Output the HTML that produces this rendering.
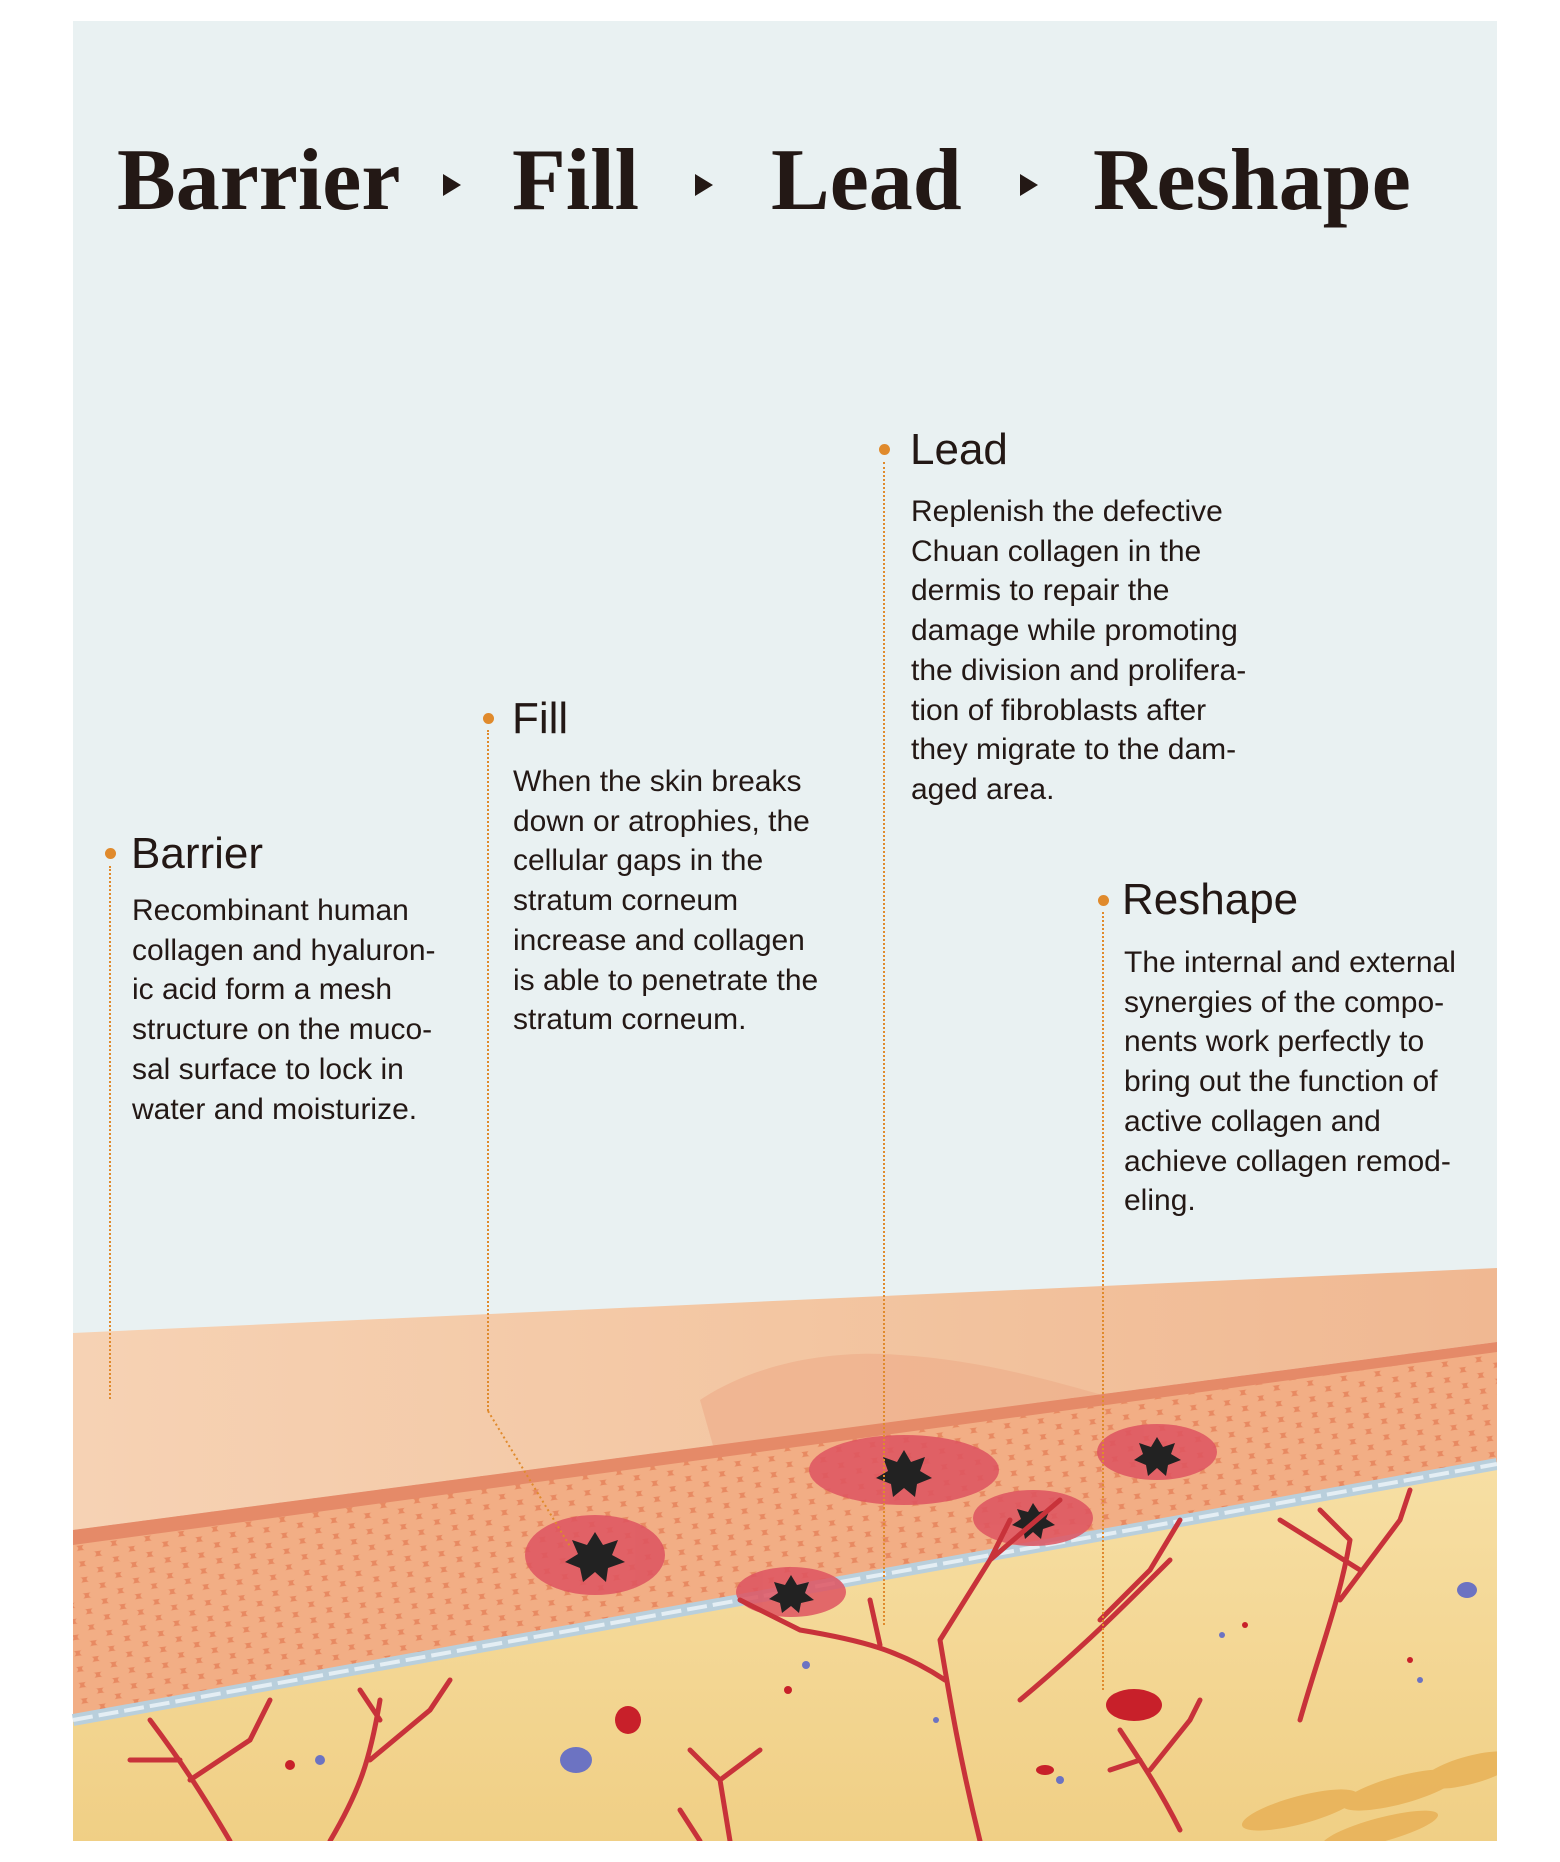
<!DOCTYPE html>
<html><head><meta charset="utf-8"><style>
html,body{margin:0;padding:0;background:#fff;}
body{width:1560px;height:1862px;position:relative;overflow:hidden;font-family:"Liberation Sans",Arial,sans-serif;color:#231815;}
.panel{position:absolute;left:73px;top:21px;width:1424px;height:1820px;background:#e9f1f2;overflow:hidden;}
.title{position:absolute;top:137px;font-family:"Liberation Serif",serif;font-weight:bold;font-size:88px;line-height:1;color:#231815;}
.arr{position:absolute;top:174px;width:0;height:0;border-top:11px solid transparent;border-bottom:11px solid transparent;border-left:18px solid #231815;}
.h{position:absolute;font-size:44px;line-height:1;}
.b{position:absolute;font-size:30px;line-height:39.7px;white-space:nowrap;}
.dot{position:absolute;width:11px;height:11px;border-radius:50%;background:#e08a2c;}
.vl{position:absolute;width:0;border-left:2px dotted #e08a2c;}
svg{position:absolute;left:0;top:0;}
</style></head><body>
<div class="panel"></div>
<svg width="1560" height="1862" viewBox="0 0 1560 1862">
<defs>
<linearGradient id="sk" x1="0" y1="0" x2="1" y2="0"><stop offset="0" stop-color="#f6d2b4"/><stop offset="0.5" stop-color="#f3c6a2"/><stop offset="1" stop-color="#f0b892"/></linearGradient>
<pattern id="cells" width="34" height="16" patternUnits="userSpaceOnUse" patternTransform="rotate(-8)">
<rect width="34" height="16" fill="#e88a62"/><ellipse cx="17" cy="8" rx="15" ry="5.5" fill="#f2ae85"/><ellipse cx="0" cy="0" rx="15" ry="5.5" fill="#f2ae85"/><ellipse cx="34" cy="0" rx="15" ry="5.5" fill="#f2ae85"/><ellipse cx="0" cy="16" rx="15" ry="5.5" fill="#f2ae85"/><ellipse cx="34" cy="16" rx="15" ry="5.5" fill="#f2ae85"/></pattern>
<linearGradient id="der" x1="0" y1="0" x2="0" y2="1"><stop offset="0" stop-color="#f7dfa4"/><stop offset="1" stop-color="#f0cf85"/></linearGradient>
</defs>
<polygon points="73,1720 1497,1464 1497,1841 73,1841" fill="url(#der)"/>
<polygon points="73,1333 1497,1268 1497,1342 73,1530" fill="url(#sk)"/>
<path d="M700,1400 C760,1360 840,1350 900,1355 C980,1360 1050,1380 1120,1400 L1050,1440 L720,1470 Z" fill="#eeaf8c" opacity="0.7"/>
<polygon points="73,1530 1497,1342 1497,1464 73,1720" fill="url(#cells)"/>
<polygon points="73,1530 1497,1342 1497,1352 73,1545" fill="#e58a68"/>
<path d="M73,1720 L1497,1464" stroke="#b9cfdc" stroke-width="12" fill="none"/>
<path d="M73,1720 L1497,1464" stroke="#e4eef4" stroke-width="4" fill="none" stroke-dasharray="20 6"/>
<g fill="#de5360" opacity="0.85">
<ellipse cx="595" cy="1555" rx="70" ry="40"/><ellipse cx="791" cy="1592" rx="55" ry="25"/><ellipse cx="904" cy="1470" rx="95" ry="35"/><ellipse cx="1033" cy="1518" rx="60" ry="28"/><ellipse cx="1157" cy="1452" rx="60" ry="28"/></g>
<g fill="#222">
<polygon points="595,1532 603,1545 618,1540 612,1555 625,1562 608,1568 606,1582 595,1572 583,1582 580,1568 565,1562 578,1554 572,1540 587,1545"/>
<polygon points="791,1575 797,1585 809,1582 805,1593 814,1600 801,1603 799,1613 791,1606 782,1613 780,1603 769,1599 778,1593 774,1582 785,1585"/>
<polygon points="904,1450 911,1462 925,1457 920,1471 932,1478 917,1484 915,1497 904,1488 893,1497 891,1484 876,1478 888,1471 883,1457 897,1462"/>
<polygon points="1033,1503 1039,1512 1050,1509 1046,1519 1055,1525 1043,1529 1041,1539 1033,1532 1025,1539 1023,1529 1012,1525 1021,1519 1017,1509 1028,1512"/>
<polygon points="1157,1437 1163,1447 1175,1443 1171,1454 1181,1460 1168,1465 1166,1476 1157,1468 1148,1476 1146,1465 1134,1460 1143,1454 1139,1443 1151,1447"/>
</g>
<g stroke="#c8323a" stroke-width="5" fill="none" stroke-linecap="round">
<path d="M230,1841 C200,1790 180,1760 150,1720 M190,1780 L250,1740 L270,1700 M180,1760 L130,1760"/>
<path d="M330,1841 C360,1790 370,1760 380,1700 M370,1760 L430,1710 L450,1680 M380,1720 L360,1690"/>
<path d="M980,1841 C960,1760 950,1700 940,1640 M945,1680 C900,1650 860,1640 800,1630 M940,1640 L990,1560 L1010,1520 M990,1560 L1060,1500 M880,1645 L870,1600 M800,1630 L740,1600"/>
<path d="M1020,1700 C1080,1650 1130,1600 1170,1560 M1100,1620 L1150,1570 L1180,1520"/>
<path d="M1300,1720 C1320,1650 1340,1600 1350,1540 M1340,1600 L1400,1520 L1410,1490 M1350,1540 L1320,1510 M1360,1570 L1280,1520"/>
<path d="M1180,1830 C1160,1790 1140,1760 1120,1730 M1140,1760 L1110,1770 M1150,1770 L1190,1720 L1200,1700"/>
<path d="M730,1841 L720,1780 L690,1750 M720,1780 L760,1750 M700,1841 L680,1810"/>
</g>
<g fill="#6c73c2"><ellipse cx="576" cy="1760" rx="16" ry="13"/><ellipse cx="1467" cy="1590" rx="10" ry="8"/><circle cx="320" cy="1760" r="5"/><circle cx="806" cy="1665" r="4"/><circle cx="1060" cy="1780" r="4"/><circle cx="1222" cy="1635" r="3"/><circle cx="1420" cy="1680" r="3"/><circle cx="936" cy="1720" r="3"/></g>
<g fill="#c8202a"><ellipse cx="628" cy="1720" rx="13" ry="14"/><ellipse cx="1134" cy="1705" rx="28" ry="16"/><circle cx="290" cy="1765" r="5"/><circle cx="788" cy="1690" r="4"/><ellipse cx="1045" cy="1770" rx="9" ry="5"/><circle cx="1245" cy="1625" r="3"/><circle cx="1410" cy="1660" r="3"/></g>
<g fill="#e9b35a" opacity="0.9"><ellipse cx="1300" cy="1810" rx="60" ry="14" transform="rotate(-15 1300 1810)"/><ellipse cx="1400" cy="1790" rx="60" ry="14" transform="rotate(-15 1400 1790)"/><ellipse cx="1470" cy="1770" rx="50" ry="14" transform="rotate(-15 1470 1770)"/><ellipse cx="1380" cy="1830" rx="60" ry="12" transform="rotate(-15 1380 1830)"/></g>
<path d="M488,1411 L571,1548" stroke="#e08a2c" stroke-width="2" stroke-dasharray="2 3" fill="none"/>
<rect x="0" y="1841" width="1560" height="21" fill="#fff"/>
<rect x="1497" y="0" width="63" height="1862" fill="#fff"/>
</svg>
<div class="title" style="left:117px">Barrier</div>
<div class="arr" style="left:443px"></div>
<div class="title" style="left:512px">Fill</div>
<div class="arr" style="left:695px"></div>
<div class="title" style="left:771px">Lead</div>
<div class="arr" style="left:1020px"></div>
<div class="title" style="left:1093px">Reshape</div>

<div class="dot" style="left:105px;top:848px"></div><div class="vl" style="left:109px;top:866px;height:533px"></div>
<div class="h" style="left:131px;top:832px">Barrier</div>
<div class="b" style="left:132px;top:891px">Recombinant human<br>collagen and hyaluron-<br>ic acid form a mesh<br>structure on the muco-<br>sal surface to lock in<br>water and moisturize.</div>

<div class="dot" style="left:483px;top:713px"></div><div class="vl" style="left:487px;top:730px;height:681px"></div>
<div class="h" style="left:512px;top:697px">Fill</div>
<div class="b" style="left:513px;top:762px">When the skin breaks<br>down or atrophies, the<br>cellular gaps in the<br>stratum corneum<br>increase and collagen<br>is able to penetrate the<br>stratum corneum.</div>

<div class="dot" style="left:879px;top:444px"></div><div class="vl" style="left:883px;top:462px;height:1163px"></div>
<div class="h" style="left:910px;top:428px">Lead</div>
<div class="b" style="left:911px;top:492px">Replenish the defective<br>Chuan collagen in the<br>dermis to repair the<br>damage while promoting<br>the division and prolifera-<br>tion of fibroblasts after<br>they migrate to the dam-<br>aged area.</div>

<div class="dot" style="left:1098px;top:895px"></div><div class="vl" style="left:1102px;top:912px;height:778px"></div>
<div class="h" style="left:1122px;top:878px">Reshape</div>
<div class="b" style="left:1124px;top:943px">The internal and external<br>synergies of the compo-<br>nents work perfectly to<br>bring out the function of<br>active collagen and<br>achieve collagen remod-<br>eling.</div>
</body></html>
